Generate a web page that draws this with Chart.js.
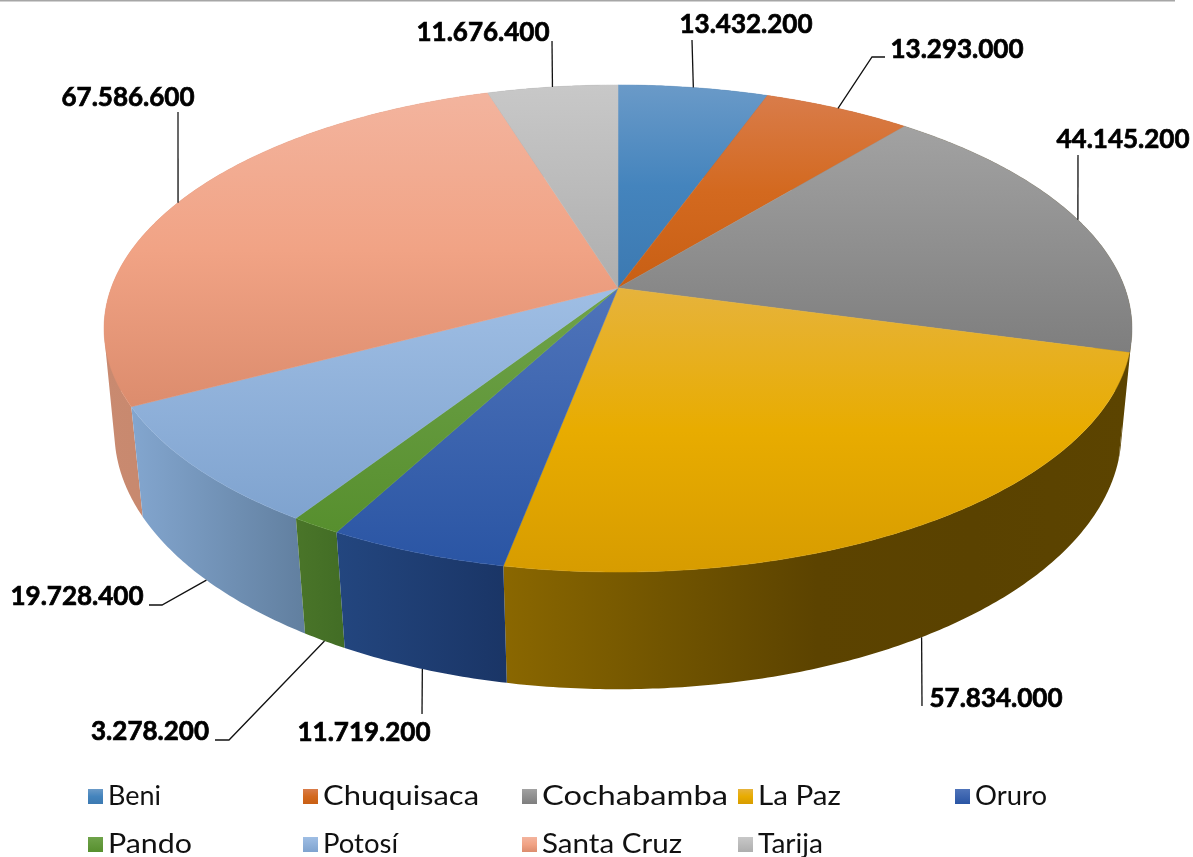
<!DOCTYPE html>
<html>
<head>
<meta charset="utf-8">
<title>Pie</title>
<script src="https://cdn.jsdelivr.net/npm/chart.js@4"></script>
<style>
html, body { margin: 0; padding: 0; background: #fff; }
canvas { display: block; }
</style>
</head>
<body>
<canvas id="myChart" width="1193" height="857"></canvas>
<script>
var categories = ['Beni', 'Chuquisaca', 'Cochabamba', 'La Paz', 'Oruro', 'Pando', 'Potosí', 'Santa Cruz', 'Tarija'];
var values = [13432200, 13293000, 44145200, 57834000, 11719200, 3278200, 19728400, 67586600, 11676400];
var valueLabels = ['13.432.200', '13.293.000', '44.145.200', '57.834.000', '11.719.200', '3.278.200', '19.728.400', '67.586.600', '11.676.400'];

// top face gradient per slice
var faceColors = [
    ['#6a9ac8', '#4484bd', '#3c79b1'],
    ['#d97c4a', '#d3691f', '#c85f14'],
    ['#a2a2a2', '#7e7e7e'],
    ['#e6b33c', '#e8ac00', '#d79c00'],
    ['#4f74ba', '#2a55a4'],
    ['#6fa34a', '#578f2e'],
    ['#9fbee4', '#7fa3cf'],
    ['#f3b49e', '#f1a385', '#dc8c6d'],
    ['#c8c8c8', '#aeaeae']
];
// outer wall gradient, left to right
var wallColors = [
    ['#2f5f8c', '#2f5f8c'],
    ['#a04a10', '#a04a10'],
    ['#5c4400', '#5c4400'],
    ['#8a6700', '#725500', '#5c4300', '#5a4200', '#5c4400'],
    ['#23467f', '#1a3566'],
    ['#4a7529', '#426d25'],
    ['#83a6cf', '#617f9f'],
    ['#c98a70', '#bd7d62'],
    ['#8a8a8a', '#8a8a8a']
];

// the disc: top and bottom rim as perspective circles
var topRim = { x: 618, y: 288, a: 236.8, b: 506.8, c: 0.1663 };
var bottomRim = { x: 618, y: 391.6, a: 251.2, b: 497.4, c: 0.156 };

// text centre and leader elbows, leader starts on the rim at the slice middle
var labelLayout = [
    { x: 746, y: 25, rim: topRim, path: [[692, 40]] },
    { x: 957, y: 50, rim: topRim, path: [[872, 57], [885, 57]] },
    { x: 1123, y: 140, rim: topRim, path: [[1078, 155]] },
    { x: 996, y: 699, rim: bottomRim, path: [[922, 706]] },
    { x: 364, y: 733, rim: bottomRim, path: [[422, 714]] },
    { x: 150, y: 732, rim: bottomRim, path: [[229, 740], [215, 740]] },
    { x: 77, y: 597, rim: bottomRim, path: [[162, 605], [149, 605]] },
    { x: 128, y: 98, rim: topRim, path: [[178, 112]] },
    { x: 483, y: 33, rim: topRim, path: [[552, 41]] }
];
var legendCols = [88, 303, 522, 738, 955];
var legendRows = [789, 837];
// text width of each legend entry in the reference
var legendWidths = [53, 156, 186, 83, 72, 84, 75, 140, 65];

function project(rim, angle) {
    var u = Math.cos(angle), v = Math.sin(angle);
    var d = 1 - rim.c * v;
    return { x: rim.x + rim.b * u / d, y: rim.y + rim.a * v / d };
}

function makeGradient(ctx, x0, y0, x1, y1, colors) {
    var g = ctx.createLinearGradient(x0, y0, x1, y1);
    colors.forEach(function (c, i) {
        g.addColorStop(i / (colors.length - 1), c);
    });
    return g;
}

function sampleAngles(start, end) {
    var n = Math.max(2, Math.ceil((end - start) / 0.01));
    var out = [];
    for (var i = 0; i <= n; i++) out.push(start + (end - start) * i / n);
    return out;
}

function addQuad(ctx, q) {
    var area = 0;
    for (var i = 0; i < 4; i++) {
        var a = q[i], b = q[(i + 1) % 4];
        area += a.x * b.y - b.x * a.y;
    }
    // same winding for every quad so the union fills without seams
    if (area < 0) q = q.slice().reverse();
    ctx.moveTo(q[0].x, q[0].y);
    for (var k = 1; k < 4; k++) ctx.lineTo(q[k].x, q[k].y);
    ctx.closePath();
}

function drawWalls(ctx, arcs) {
    // back slices first
    var order = arcs.map(function (a, i) { return i; }).sort(function (p, q) {
        var mp = (arcs[p].startAngle + arcs[p].endAngle) / 2;
        var mq = (arcs[q].startAngle + arcs[q].endAngle) / 2;
        return Math.sin(mp) - Math.sin(mq);
    });
    order.forEach(function (i) {
        var angles = sampleAngles(arcs[i].startAngle, arcs[i].endAngle);
        var xs = [];
        ctx.beginPath();
        for (var k = 0; k < angles.length - 1; k++) {
            var p1 = project(topRim, angles[k]), p2 = project(topRim, angles[k + 1]);
            var p3 = project(bottomRim, angles[k + 1]), p4 = project(bottomRim, angles[k]);
            xs.push(p1.x, p2.x, p3.x, p4.x);
            addQuad(ctx, [p1, p2, p3, p4]);
        }
        ctx.fillStyle = makeGradient(ctx, Math.min.apply(null, xs), 0, Math.max.apply(null, xs), 0, wallColors[i]);
        ctx.fill();
    });
}

function drawFaces(ctx, arcs) {
    arcs.forEach(function (arc, i) {
        var pts = sampleAngles(arc.startAngle, arc.endAngle).map(function (a) {
            return project(topRim, a);
        });
        var ys = pts.map(function (p) { return p.y; }).concat(topRim.y);
        var fill = makeGradient(ctx, 0, Math.min.apply(null, ys), 0, Math.max.apply(null, ys), faceColors[i]);
        ctx.beginPath();
        ctx.moveTo(topRim.x, topRim.y);
        pts.forEach(function (p) { ctx.lineTo(p.x, p.y); });
        ctx.closePath();
        ctx.fillStyle = fill;
        ctx.fill();
        ctx.strokeStyle = fill;
        ctx.lineWidth = 0.5;
        ctx.stroke();
    });
}

function drawLabels(ctx, arcs) {
    ctx.font = 'bold 26px Lato';
    ctx.textAlign = 'center';
    ctx.textBaseline = 'middle';
    arcs.forEach(function (arc, i) {
        var spot = labelLayout[i];
        var start = project(spot.rim, (arc.startAngle + arc.endAngle) / 2);
        ctx.beginPath();
        ctx.moveTo(start.x, start.y);
        spot.path.forEach(function (p) { ctx.lineTo(p[0], p[1]); });
        ctx.strokeStyle = '#111';
        ctx.lineWidth = 1.3;
        ctx.stroke();
        ctx.fillStyle = '#000';
        ctx.fillText(valueLabels[i], spot.x, spot.y);
        ctx.strokeStyle = '#000';
        ctx.lineWidth = 0.7;
        ctx.strokeText(valueLabels[i], spot.x, spot.y);
    });
}

function drawLegend(ctx) {
    ctx.font = '26px Lato';
    ctx.textAlign = 'left';
    ctx.textBaseline = 'middle';
    categories.forEach(function (name, i) {
        var x = legendCols[i % 5], y = legendRows[Math.floor(i / 5)];
        ctx.fillStyle = makeGradient(ctx, 0, y, 0, y + 15, faceColors[i]);
        ctx.fillRect(x, y, 15, 15);
        // stretch the text to the reference width, the round letters come out closer too
        var stretch = legendWidths[i] / ctx.measureText(name).width;
        ctx.save();
        ctx.translate(x + 20, y + 8);
        ctx.scale(stretch, 1);
        ctx.fillStyle = '#111';
        ctx.fillText(name, 0, 0);
        ctx.restore();
    });
}

var disc3d = {
    id: 'disc3d',
    beforeDatasetsDraw: function (chart) {
        var ctx = chart.ctx;
        var arcs = chart.getDatasetMeta(0).data;
        ctx.save();
        ctx.fillStyle = '#a6a6a6';
        ctx.fillRect(0, 0, 1175, 1.5);
        drawWalls(ctx, arcs);
        drawFaces(ctx, arcs);
        drawLabels(ctx, arcs);
        drawLegend(ctx);
        ctx.restore();
        return false;
    }
};

var ctx = document.getElementById('myChart').getContext('2d');
var myChart = new Chart(ctx, {
    type: 'pie',
    data: {
        labels: categories,
        datasets: [{
            data: values
        }]
    },
    options: {
        responsive: false,
        animation: false,
        plugins: {
            legend: { display: false },
            tooltip: { enabled: false }
        }
    },
    plugins: [disc3d]
});
</script>
</body>
</html>
